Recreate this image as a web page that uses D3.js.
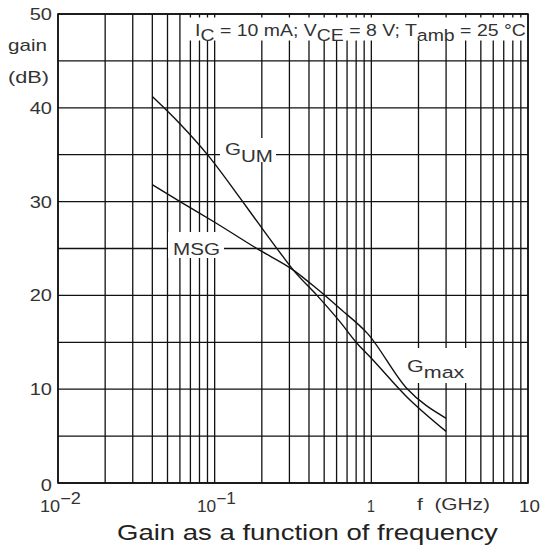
<!DOCTYPE html>
<html>
<head>
<meta charset="utf-8">
<script src="https://cdn.jsdelivr.net/npm/d3@7"></script>
<style>
  html, body { margin: 0; padding: 0; background: #fff; }
  svg { display: block; font-family: "Liberation Sans", Arial, Helvetica, sans-serif; }
</style>
</head>
<body>
<svg id="chart" width="541" height="546"></svg>
<script>
// Frequency in GHz, gain in dB
const gumFreq = [0.04, 0.06, 0.091, 0.145, 0.19, 0.274, 0.318, 0.45, 0.63, 0.81, 1.0, 1.68, 3.0];
const gumGain = [41.2, 38.3, 34.9, 30.4, 27.7, 24.1, 22.7, 20.0, 17.2, 14.9, 13.3, 9.2, 5.5];
const msgFreq = [0.04, 0.0616, 0.1, 0.19, 0.318, 0.45, 0.63, 0.95, 1.68, 3.0];
const msgGain = [31.8, 29.9, 27.8, 24.9, 22.7, 20.7, 18.6, 15.9, 10.1, 6.9];
const yTickValues = [0, 10, 20, 30, 40, 50];
const yGridValues = [0, 5, 10, 15, 20, 25, 30, 35, 40, 45, 50];
const decades = [0.01, 0.1, 1];

const svg = d3.select("#chart");
const x = d3.scaleLog().domain([0.01, 10]).range([58, 528]);
const y = d3.scaleLinear().domain([0, 50]).range([483, 14]);

const ink = "#111";
const textInk = "#333";

// vertical grid: 1..9 in every decade plus the final 10
const vGrid = [];
decades.forEach(d => { for (let k = 1; k <= 9; k++) vGrid.push(d * k); });
vGrid.push(10);

const grid = svg.append("g").attr("stroke", ink).attr("stroke-width", 1.3);
grid.selectAll("line.v").data(vGrid).join("line")
  .attr("class", "v")
  .attr("x1", d => x(d)).attr("x2", d => x(d))
  .attr("y1", y(0)).attr("y2", y(50));
grid.selectAll("line.h").data(yGridValues).join("line")
  .attr("class", "h")
  .attr("x1", x(0.01)).attr("x2", x(10))
  .attr("y1", d => y(d)).attr("y2", d => y(d));

// white backgrounds that break the grid behind the annotations
const masks = [
  [186, 17.5, 341, 23],   // conditions line (leaves short ticks at the top)
  [220, 138, 56, 24],     // G_UM
  [168, 232, 56, 26],     // MSG
  [401, 348, 70, 35]      // G_max
];
svg.append("g").selectAll("rect").data(masks).join("rect")
  .attr("x", d => d[0]).attr("y", d => d[1])
  .attr("width", d => d[2]).attr("height", d => d[3])
  .attr("fill", "#fff");

// frame
svg.append("rect")
  .attr("x", x(0.01)).attr("y", y(50))
  .attr("width", x(10) - x(0.01)).attr("height", y(0) - y(50))
  .attr("fill", "none").attr("stroke", ink).attr("stroke-width", 1.6);

// curves
const line = d3.line().curve(d3.curveMonotoneX);
const gumPts = gumFreq.map((f, i) => [x(f), y(gumGain[i])]);
const msgPts = msgFreq.map((f, i) => [x(f), y(msgGain[i])]);
[gumPts, msgPts].forEach(pts => {
  svg.append("path").attr("d", line(pts))
    .attr("fill", "none").attr("stroke", ink).attr("stroke-width", 1.4);
});

// text helpers: the lettering is set wide, so each label is stretched
// horizontally to its run length
function fit(t, x0, base, width) {
  t.attr("x", 0).attr("y", 0);
  const w = t.node().getBBox().width;
  t.attr("transform", `translate(${x0},${base}) scale(${width / w},1)`);
  return t;
}
function label(size) {
  return svg.append("text").attr("font-size", size).attr("fill", textInk)
    .attr("xml:space", "preserve");
}
function subLabel(size, parts, drop) {
  const t = label(size);
  let shifted = false;
  parts.forEach(([s, sub]) => {
    const ts = t.append("tspan").text(s);
    if (sub && !shifted) { ts.attr("dy", drop); shifted = true; }
    else if (!sub && shifted) { ts.attr("dy", -drop); shifted = false; }
  });
  return t;
}

// y tick labels (right aligned)
const SX = 1.25;
svg.append("g").selectAll("text").data(yTickValues).join("text")
  .attr("text-anchor", "end").attr("font-size", 16).attr("fill", textInk)
  .attr("transform", d => `translate(52,${d === 0 ? 491 : y(d) + 6}) scale(${SX},1)`)
  .text(d => d);
fit(label(16).text("gain"), 8, 51, 39);
fit(label(16).text("(dB)"), 8, 83, 41);

// x tick labels
function powLabel(x0, width, exp) {
  const t = label(16);
  t.append("tspan").text("10");
  t.append("tspan").attr("dy", -8).text("\u2212" + exp);
  fit(t, x0, 512, width);
}
powLabel(40, 41, 2);
powLabel(197, 39, 1);
fit(label(16).text("1"), 367, 512, 8);
fit(label(16).text("f  (GHz)"), 417, 510, 73);
fit(label(16).text("10"), 519, 512, 21);

// annotations
fit(subLabel(17, [["I"], ["C", 1], [" = 10 mA; V"], ["CE", 1], [" = 8 V; T"], ["amb", 1], [" = 25 \u00B0C"]], 5), 195, 36, 329);
fit(subLabel(17, [["G"], ["UM", 1]], 7), 225, 155, 48);
fit(label(17).text("MSG"), 173, 255, 47);
fit(subLabel(17, [["G"], ["max", 1]], 6), 407, 372, 58);

// caption
fit(label(22).attr("fill", "#222").text("Gain as a function of frequency"), 117, 540, 381);
</script>
</body>
</html>
